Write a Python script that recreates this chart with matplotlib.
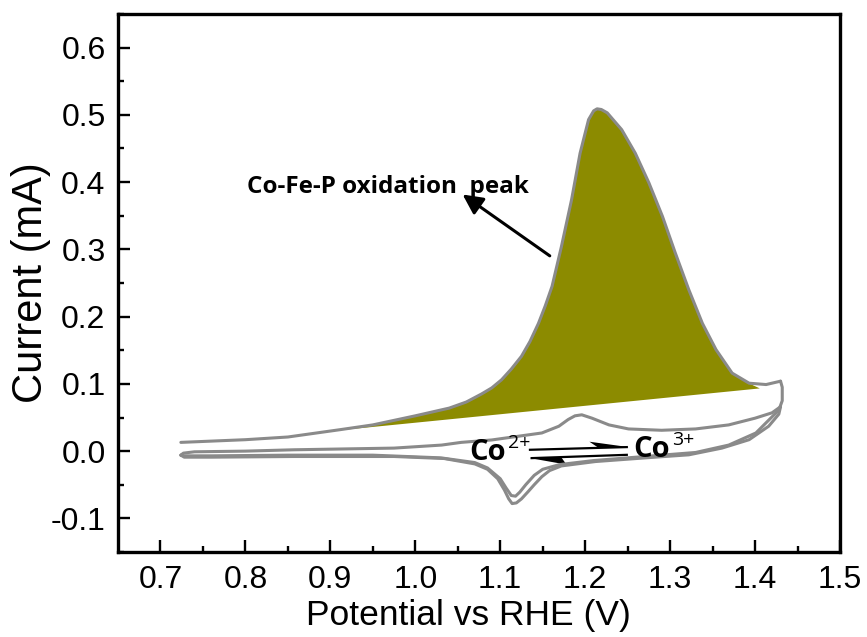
import matplotlib
matplotlib.use("Agg")
import matplotlib.pyplot as plt
import numpy as np

# first anodic scan (big Co-Fe-P oxidation peak)
an1_x = [0.724, 0.80, 0.85, 0.912, 0.95, 1.00, 1.04, 1.06, 1.078, 1.09, 1.1015, 1.113, 1.125, 1.135, 1.145,
         1.153, 1.161, 1.172, 1.184, 1.194, 1.204, 1.210, 1.214, 1.219, 1.226, 1.243, 1.259, 1.275,
         1.291, 1.306, 1.322, 1.338, 1.354, 1.373, 1.393, 1.413, 1.430]
an1_y = [0.013, 0.017, 0.021, 0.032, 0.039, 0.0525, 0.064, 0.073, 0.085, 0.094, 0.106, 0.122, 0.141, 0.163, 0.19,
         0.216, 0.245, 0.304, 0.374, 0.443, 0.493, 0.506, 0.509, 0.508, 0.503, 0.478, 0.443, 0.399,
         0.349, 0.295, 0.240, 0.190, 0.151, 0.116, 0.101, 0.099, 0.104]

# first cathodic scan
ca1_x = [1.430, 1.432, 1.432, 1.428, 1.42, 1.401, 1.369, 1.33, 1.27, 1.21, 1.17, 1.15, 1.14,
         1.13, 1.123, 1.118, 1.113, 1.107, 1.10, 1.085, 1.07, 1.03, 0.95, 0.85, 0.76, 0.728, 0.724]
ca1_y = [0.104, 0.095, 0.075, 0.061, 0.051, 0.027, 0.009, -0.002, -0.008, -0.014, -0.020, -0.027, -0.036,
         -0.050, -0.061, -0.067, -0.066, -0.055, -0.041, -0.025, -0.017, -0.010, -0.006, -0.006, -0.007, -0.007, -0.006]

# second anodic scan (small Co2+/Co3+ peak)
an2_x = [0.724, 0.727, 0.74, 0.80, 0.857, 0.975, 1.031, 1.054, 1.09, 1.149, 1.169, 1.180, 1.188, 1.196,
         1.208, 1.228, 1.251, 1.29, 1.33, 1.369, 1.40, 1.42, 1.43]
an2_y = [-0.006, -0.003, -0.001, 0.000, 0.002, 0.0045, 0.009, 0.013, 0.0166, 0.027, 0.037, 0.047, 0.0525, 0.054,
         0.049, 0.039, 0.033, 0.031, 0.033, 0.039, 0.049, 0.057, 0.066]

# second cathodic scan
ca2_x = [1.43, 1.428, 1.416, 1.393, 1.361, 1.322, 1.271, 1.212, 1.172, 1.158, 1.149, 1.14, 1.133,
         1.125, 1.119, 1.114, 1.110, 1.105, 1.097, 1.085, 1.07, 1.034, 0.975, 0.857, 0.76, 0.728, 0.724]
ca2_y = [0.066, 0.055, 0.037, 0.017, 0.0045, -0.0055, -0.010, -0.0155, -0.022, -0.029, -0.038, -0.050, -0.060,
         -0.071, -0.077, -0.078, -0.071, -0.058, -0.041, -0.027, -0.019, -0.011, -0.008, -0.008, -0.009, -0.009, -0.006]

# baseline under the shaded peak
base_x = [0.912, 1.405]
base_y = [0.032, 0.094]

plt.rcParams['font.family'] = ['Liberation Sans', 'DejaVu Sans']

fig = plt.figure(figsize=(8.67, 6.37), dpi=100)
ax = fig.add_axes([118/867, 1-552/637, (840-118)/867, (552-14)/637])

gray = '#8a8a8a'
olive = '#8c8b00'
bold_font = ['Open Sans', 'DejaVu Sans']

# shade the oxidation peak above the baseline
px = np.array(an1_x)
py = np.array(an1_y)
m = (px >= base_x[0]) & (px <= base_x[1])
fx = np.concatenate([[base_x[0]], px[m], [base_x[1]]])
fy = np.concatenate([[base_y[0]], py[m], [base_y[1]]])
ax.fill_between(fx, fy, np.interp(fx, base_x, base_y), color=olive, lw=0)

for xs, ys in [(an1_x, an1_y), (ca1_x, ca1_y), (an2_x, an2_y), (ca2_x, ca2_y)]:
    ax.plot(xs, ys, color=gray, lw=2.2, solid_joinstyle='round', solid_capstyle='round')

ax.set_xlim(0.65, 1.5)
ax.set_ylim(-0.15, 0.65)
ax.set_xticks(np.arange(0.7, 1.51, 0.1))
ax.set_xticks(np.arange(0.75, 1.5, 0.1), minor=True)
ax.set_yticks(np.arange(-0.1, 0.61, 0.1))
ax.set_yticks(np.arange(-0.15, 0.66, 0.1), minor=True)
ax.xaxis.set_major_formatter(matplotlib.ticker.FormatStrFormatter('%.1f'))
ax.yaxis.set_major_formatter(matplotlib.ticker.FormatStrFormatter('%.1f'))
ax.tick_params(which='both', direction='in', width=1.7, labelsize=23, pad=9)
ax.tick_params(which='major', length=8.5)
ax.tick_params(which='minor', length=4.5)
for s in ax.spines.values():
    s.set_linewidth(2.4)

ax.set_xlabel('Potential vs RHE (V)', fontsize=25.5, labelpad=3)
ax.xaxis.label.set_x(0.485)
ax.set_ylabel('Current (mA)', fontsize=30, labelpad=0)

ax.text(0.802, 0.393, 'Co-Fe-P oxidation  peak', fontsize=17.5, fontweight='bold',
        family=bold_font, ha='left', va='center')
ax.annotate('', xy=(1.053, 0.384), xytext=(1.161, 0.288),
            arrowprops=dict(arrowstyle='-|>', color='black', lw=2.2, mutation_scale=30))

# Co2+ <=> Co3+ labels
for lx, ly, sup in [(1.064, -0.002, '2+'), (1.257, 0.003, '3+')]:
    t = ax.text(lx, ly, 'Co', fontsize=21, fontweight='bold', family=bold_font,
                ha='left', va='center')
    ax.annotate(sup, xy=(1.0, 0.5), xycoords=t, xytext=(1, 0), textcoords='offset points',
                fontsize=14, family=bold_font, ha='left', va='bottom')

# equilibrium harpoons
ax.plot([1.135, 1.249], [0.002, 0.006], color='black', lw=1.6)
ax.fill([1.251, 1.215, 1.205], [0.006, 0.0055, 0.014], color='black', lw=0)
ax.plot([1.137, 1.249], [-0.0104, -0.0055], color='black', lw=1.6)
ax.fill([1.135, 1.172, 1.178], [-0.0104, -0.0095, -0.020], color='black', lw=0)

fig.savefig('out.png', dpi=100)
